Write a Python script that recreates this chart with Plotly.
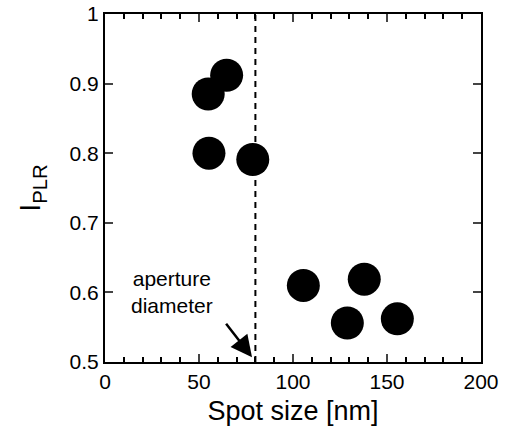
import plotly.graph_objects as go

spot_size = [54.9, 64.7, 55.3, 78.6, 105.5, 137.9, 128.9, 155.5]
i_plr = [0.885, 0.912, 0.800, 0.791, 0.610, 0.619, 0.556, 0.562]
aperture = 80
y_ticks = [0.5, 0.6, 0.7, 0.8, 0.9, 1.0]
y_ticktext = ["0.5", "0.6", "0.7", "0.8", "0.9", "1"]

fig = go.Figure()
fig.add_trace(go.Scatter(x=spot_size, y=i_plr, mode="markers",
                         marker=dict(size=33, color="black"), showlegend=False))

fig.add_shape(type="line", x0=aperture, x1=aperture, y0=0.5, y1=1.0,
              xref="x", yref="y", line=dict(color="black", width=2, dash="6px,5px"))

fig.add_annotation(x=35.6, y=0.601, xref="x", yref="y", text="aperture<br>diameter",
                   showarrow=False, font=dict(size=21, color="black"))
fig.add_annotation(x=78.2, y=0.507, xref="x", yref="y", ax=63.8, ay=0.557,
                   axref="x", ayref="y", text="", showarrow=True,
                   arrowhead=2, arrowsize=1.7, arrowwidth=2.5, arrowcolor="black")

font = "Liberation Sans, Arial, Helvetica, sans-serif"
fig.update_layout(
    width=510, height=428,
    margin=dict(l=105, r=29, t=14, b=66),
    plot_bgcolor="white", paper_bgcolor="white",
    font=dict(family=font, color="black", size=21),
    xaxis=dict(range=[0, 200], tick0=0, dtick=50, ticks="inside", ticklen=8, tickwidth=2,
               showline=True, linewidth=2, linecolor="black", mirror="ticks",
               showgrid=False, zeroline=False, automargin=False,
               minor=dict(tick0=0, dtick=10, ticks="inside", ticklen=5, tickwidth=1.5,
                          tickcolor="black", showgrid=False),
               title=dict(text="Spot size [nm]", font=dict(size=27), standoff=9),
               tickfont=dict(size=21)),
    yaxis=dict(range=[0.5, 1.0], tickvals=y_ticks, ticktext=y_ticktext, ticks="inside",
               ticklen=8, tickwidth=2,
               showline=True, linewidth=2, linecolor="black", mirror="ticks",
               showgrid=False, zeroline=False, automargin=False,
               title=dict(text="I<sub>PLR</sub>", font=dict(size=29), standoff=20),
               tickfont=dict(size=21)),
)

fig.write_html("out.html", config={"displayModeBar": False},
               post_script="document.body.style.margin='0';")
